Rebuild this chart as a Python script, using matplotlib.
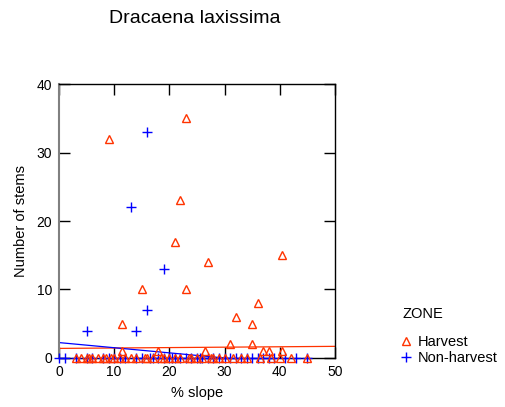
import matplotlib

matplotlib.use("Agg")
import matplotlib.pyplot as plt
from matplotlib.lines import Line2D
import numpy as np

plt.rcParams["font.family"] = ["Liberation Sans", "DejaVu Sans"]

RED = "#FF3300"
BLUE = "#0000FF"

# Harvest plots: (slope %, stems)
harvest_x = [9, 23, 22, 21, 27, 15, 23, 40.5, 36, 32, 35, 11.5, 31, 35,
             18, 11.5, 26.5, 37, 38, 40.5,
             3, 4, 5, 5.5, 6, 7, 8, 8.5, 9.5, 10, 11, 12, 13, 14, 15.5, 16,
             17, 18.5, 19, 20, 21, 22, 23.5, 24, 25, 26, 27.5, 28, 29, 30,
             31.5, 33, 34, 36.5, 38.5, 40, 42, 45]
harvest_y = [32, 35, 23, 17, 14, 10, 10, 15, 8, 6, 5, 5, 2, 2,
             1, 1, 1, 1, 1, 1,
             0, 0, 0, 0, 0, 0, 0, 0, 0, 0, 0, 0, 0, 0, 0, 0,
             0, 0, 0, 0, 0, 0, 0, 0, 0, 0, 0, 0, 0, 0,
             0, 0, 0, 0, 0, 0, 0, 0]

# Non-harvest plots
nonharvest_x = [16, 13, 19, 16, 5, 14,
                0, 1, 3, 5, 6, 8, 9, 10, 11, 12, 14, 15, 16.5, 17, 18, 19,
                20, 20.5, 21, 22, 23, 24, 25, 25.5, 26, 27, 28, 29, 30, 31,
                32, 33, 34, 35, 36, 37, 38, 39, 41, 43, 45]
nonharvest_y = [33, 22, 13, 7, 4, 4,
                0, 0, 0, 0, 0, 0, 0, 0, 0, 0, 0, 0, 0, 0, 0, 0,
                0, 0, 0, 0, 0, 0, 0, 0, 0, 0, 0, 0, 0, 0,
                0, 0, 0, 0, 0, 0, 0, 0, 0, 0, 0]

# fitted lines (intercept, slope)
harvest_fit = (1.4, 0.006)
nonharvest_fit = (2.25, -0.075)

fig = plt.figure(figsize=(5.06, 4.07), dpi=100)
ax = fig.add_axes([0.1166, 0.1204, 0.5452, 0.6732])

ax.plot(nonharvest_x, nonharvest_y, linestyle="none", marker="+", color=BLUE,
        markersize=6.5, markeredgewidth=1.0, clip_on=False, zorder=3)
ax.plot(harvest_x, harvest_y, linestyle="none", marker="^", markerfacecolor="none",
        markeredgecolor=RED, markersize=5.5, markeredgewidth=1.0, clip_on=False, zorder=3)

xx = np.array([0, 50])
ax.plot(xx, harvest_fit[0] + harvest_fit[1] * xx, color=RED, linewidth=0.9)
ax.plot(xx, nonharvest_fit[0] + nonharvest_fit[1] * xx, color=BLUE, linewidth=0.9)

ax.set_xlim(0, 50)
ax.set_ylim(0, 40)
ax.set_xticks([0, 10, 20, 30, 40, 50])
ax.set_yticks([0, 10, 20, 30, 40])
ax.tick_params(direction="in", length=8, width=1, top=True, right=True,
               labelsize=10, pad=5)
for s in ["top", "right", "bottom"]:
    ax.spines[s].set_linewidth(1)
ax.spines["left"].set_color("#808080")
ax.spines["left"].set_linewidth(1.5)

ax.set_xlabel("% slope", fontsize=10.5, labelpad=5)
ax.set_ylabel("Number of stems", fontsize=10.5, labelpad=6)

fig.text(0.385, 0.955, "Dracaena laxissima", fontsize=14, ha="center", va="center")

handles = [
    Line2D([], [], linestyle="none", marker="^", markerfacecolor="none",
           markeredgecolor=RED, markersize=5.5),
    Line2D([], [], linestyle="none", marker="+", color=BLUE, markersize=6.5),
]
leg = fig.legend(handles, ["Harvest", "Non-harvest"], title="ZONE",
                 loc="upper left", bbox_to_anchor=(0.796, 0.245), frameon=False,
                 fontsize=10.5, title_fontsize=10.5, alignment="left",
                 handlelength=0.4, handletextpad=0.6, labelspacing=0.1,
                 borderpad=0, borderaxespad=0)
leg._legend_box.sep = 10

fig.savefig("out.png", dpi=100)
